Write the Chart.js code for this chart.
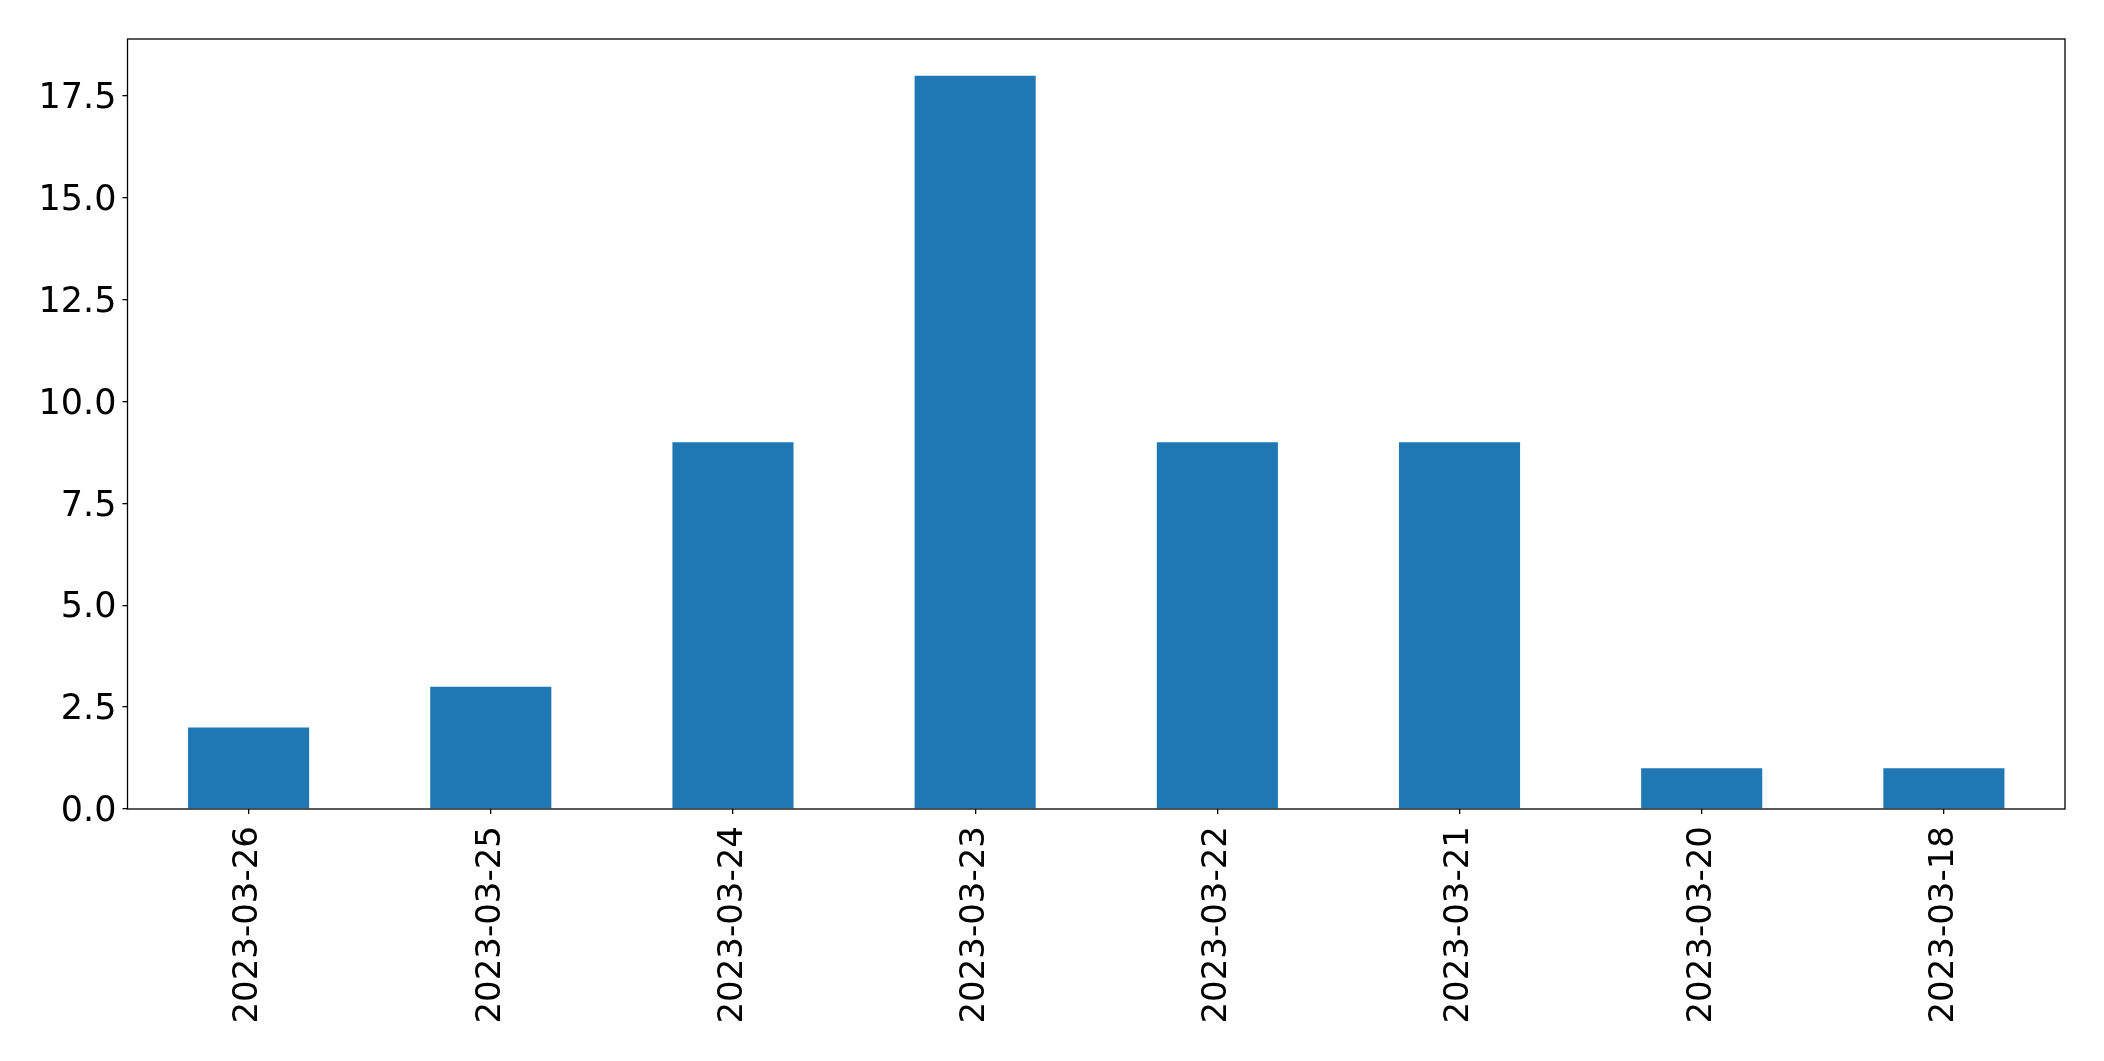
<!DOCTYPE html>
<html>
<head>
<meta charset="utf-8">
<script src="https://cdn.jsdelivr.net/npm/chart.js@4"></script>
<style>
  body { margin: 0; background: #fff; }
</style>
</head>
<body>
<canvas id="chart" width="2104" height="1061"></canvas>
<script>
const dates = ['2023-03-26', '2023-03-25', '2023-03-24', '2023-03-23', '2023-03-22', '2023-03-21', '2023-03-20', '2023-03-18'];
const counts = [2, 3, 9, 18, 9, 9, 1, 1];
const yMax = 18.9;

// box round the plot area, like the matplotlib frame
const frame = {
  id: 'frame',
  afterDraw(chart) {
    const a = chart.chartArea;
    const ctx = chart.ctx;
    ctx.save();
    ctx.strokeStyle = '#000';
    ctx.lineWidth = 1.3;
    ctx.strokeRect(a.left, a.top, a.right - a.left, a.bottom - a.top);
    ctx.restore();
  }
};

const ctx = document.getElementById('chart');
new Chart(ctx, {
  type: 'bar',
  data: {
    labels: dates,
    datasets: [{
      data: counts,
      backgroundColor: '#1f77b4',
      borderWidth: 0,
      categoryPercentage: 1.0,
      barPercentage: 0.5
    }]
  },
  options: {
    responsive: false,
    animation: false,
    devicePixelRatio: 1,
    layout: { padding: { top: 39, right: 39, left: 0, bottom: 0 } },
    plugins: { legend: { display: false }, tooltip: { enabled: false } },
    scales: {
      x: {
        offset: true,
        grid: { offset: false, drawOnChartArea: false, tickLength: 5, tickColor: '#000', lineWidth: 1.3 },
        border: { display: false },
        ticks: {
          color: '#000',
          font: { family: 'DejaVu Sans', size: 34 },
          minRotation: 90,
          maxRotation: 90,
          padding: 12,
          autoSkip: false
        },
        afterFit: (scale) => { scale.height = 252; }
      },
      y: {
        min: 0,
        max: yMax,
        grid: { drawOnChartArea: false, tickLength: 5, tickColor: '#000', lineWidth: 1.3 },
        border: { display: false },
        ticks: {
          stepSize: 2.5,
          includeBounds: false,
          color: '#000',
          font: { family: 'DejaVu Sans', size: 35 },
          padding: 6,
          labelOffset: 3,
          callback: (v) => v.toFixed(1)
        },
        afterFit: (scale) => { scale.width = 127.5; }
      }
    }
  },
  plugins: [frame]
});
</script>
</body>
</html>
